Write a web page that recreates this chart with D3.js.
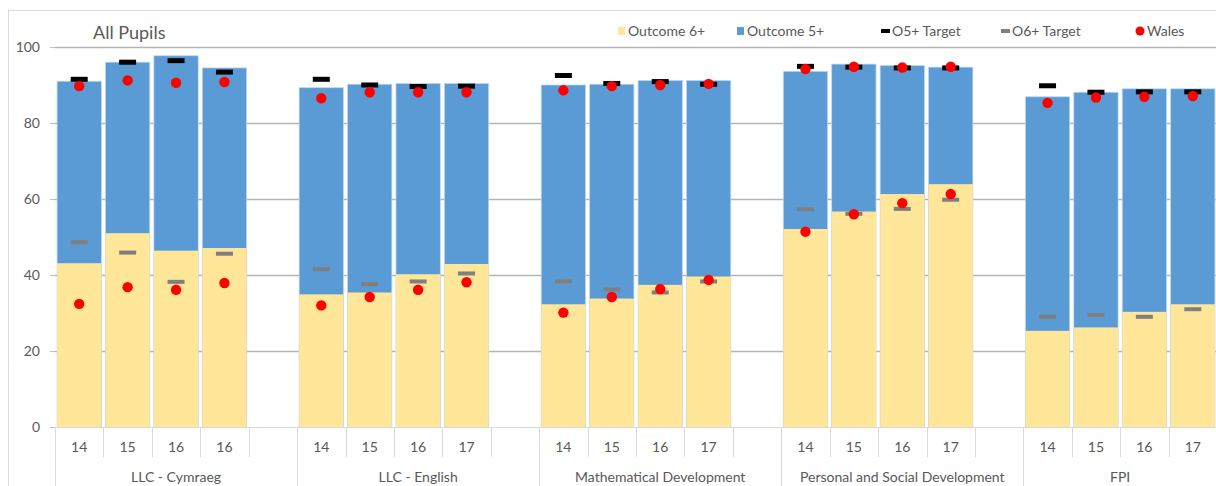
<!DOCTYPE html>
<html>
<head>
<meta charset="utf-8">
<script src="https://cdn.jsdelivr.net/npm/d3@7"></script>
<style>
  body { margin: 0; background: #fff; }
  svg text { font-family: Lato, "Open Sans", sans-serif; fill: #595959; }
</style>
</head>
<body>
<div id="chart"></div>
<script>
// data
const groups = ["LLC - Cymraeg", "LLC - English", "Mathematical Development", "Personal and Social Development", "FPI"];
const years = [["14","15","16","16"], ["14","15","16","17"], ["14","15","16","17"], ["14","15","16","17"], ["14","15","16","17"]];
const outcome5 = [[91.0,96.0,97.7,94.5],[89.3,90.2,90.4,90.4],[90.0,90.2,91.2,91.2],[93.6,95.5,95.1,94.7],[86.9,88.1,89.0,89.0]];
const outcome6 = [[43.1,51.0,46.4,47.1],[34.9,35.4,40.2,42.9],[32.3,33.8,37.4,39.6],[52.1,56.7,61.3,63.9],[25.3,26.2,30.3,32.3]];
const target5 = [[91.5,96.0,96.4,93.4],[91.5,90.0,89.6,89.7],[92.5,90.4,90.9,90.2],[94.9,94.7,94.5,94.5],[89.8,88.1,88.2,88.2]];
const target6 = [[48.6,45.9,38.2,45.6],[41.5,37.6,38.3,40.4],[38.3,36.2,35.4,38.3],[57.3,56.1,57.4,59.8],[29.0,29.5,29.0,31.0]];
const wales5 = [[89.7,91.2,90.6,90.8],[86.5,88.1,88.1,88.1],[88.6,89.7,90.0,90.3],[94.2,94.8,94.6,94.8],[85.3,86.7,86.9,87.1]];
const wales6 = [[32.4,36.8,36.1,37.9],[32.0,34.2,36.1,38.1],[30.1,34.2,36.3,38.7],[51.4,56.0,58.9,61.3],[null,null,null,null]];
const yTicks = [0, 20, 40, 60, 80, 100];

const W = 1216, H = 486;
const margin = {left: 55, right: 1217, top: 47, bottom: 427};

const svg = d3.select("#chart").append("svg")
    .attr("width", W)
    .attr("height", H);

// outer chart border
svg.append("rect")
    .attr("x", 8.5).attr("y", 10.5)
    .attr("width", W + 20).attr("height", H + 20)
    .attr("fill", "none")
    .attr("stroke", "#d9d9d9");

// build slots: 4 years per group plus an empty spacer between groups
const slots = [];
const rows = [];
groups.forEach(function (g, gi) {
    years[gi].forEach(function (yr, i) {
        const key = gi + "-" + i;
        slots.push(key);
        rows.push({
            key: key, group: gi, year: yr,
            o5: outcome5[gi][i], o6: outcome6[gi][i],
            t5: target5[gi][i], t6: target6[gi][i],
            w5: wales5[gi][i], w6: wales6[gi][i]
        });
    });
    if (gi < groups.length - 1) slots.push(gi + "-gap");
});

const x = d3.scaleBand()
    .domain(slots)
    .range([margin.left, margin.right])
    .paddingInner(0.085)
    .paddingOuter(0.0425);

const y = d3.scaleLinear()
    .domain([0, 100])
    .range([margin.bottom, margin.top]);

const step = x.step();
const slotStart = function (k) { return x(k) - x.paddingInner() * step / 2; };

// gridlines
svg.append("g")
    .selectAll("line")
    .data(yTicks.filter(d => d > 0))
    .join("line")
    .attr("x1", margin.left).attr("x2", W)
    .attr("y1", d => Math.round(y(d)) + 0.5).attr("y2", d => Math.round(y(d)) + 0.5)
    .attr("stroke", "#b4b4b4")
    .attr("stroke-width", 1.5);

// y axis labels and small ticks
const yAxis = svg.append("g")
    .attr("transform", `translate(${margin.left},0)`)
    .call(d3.axisLeft(y).tickValues(yTicks).tickSize(5).tickPadding(10));
yAxis.select(".domain").remove();
yAxis.selectAll(".tick line").attr("stroke", "#bfbfbf");
yAxis.selectAll(".tick text")
    .style("font-family", "Lato, sans-serif")
    .style("font-size", "14px")
    .attr("fill", "#595959");

// bars: Outcome 5+ behind, Outcome 6+ in front
svg.append("g")
    .selectAll("rect")
    .data(rows)
    .join("rect")
    .attr("x", d => x(d.key))
    .attr("width", x.bandwidth())
    .attr("y", d => y(d.o5))
    .attr("height", d => y(0) - y(d.o5))
    .attr("fill", "#5b9bd5")
    .attr("stroke", "#bdd7ee")
    .attr("stroke-width", 0.75);

svg.append("g")
    .selectAll("rect")
    .data(rows)
    .join("rect")
    .attr("x", d => x(d.key))
    .attr("width", x.bandwidth())
    .attr("y", d => y(d.o6))
    .attr("height", d => y(0) - y(d.o6))
    .attr("fill", "#ffe699");

// target dashes
const dashW = 17;
svg.append("g")
    .selectAll("rect")
    .data(rows)
    .join("rect")
    .attr("x", d => x(d.key) + x.bandwidth() / 2 - dashW / 2)
    .attr("y", d => y(d.t6) - 2)
    .attr("width", dashW).attr("height", 4)
    .attr("fill", "#7f7f7f");

svg.append("g")
    .selectAll("rect")
    .data(rows)
    .join("rect")
    .attr("x", d => x(d.key) + x.bandwidth() / 2 - dashW / 2)
    .attr("y", d => y(d.t5) - 2.5)
    .attr("width", dashW).attr("height", 5)
    .attr("fill", "#000");

// Wales dots
const walesPts = [];
rows.forEach(function (d) {
    walesPts.push({ key: d.key, v: d.w5 });
    if (d.w6 != null) walesPts.push({ key: d.key, v: d.w6 });
});
svg.append("g")
    .selectAll("circle")
    .data(walesPts)
    .join("circle")
    .attr("cx", d => x(d.key) + x.bandwidth() / 2)
    .attr("cy", d => y(d.v))
    .attr("r", 5.2)
    .attr("fill", "#ff0000");

// category axis
const axisG = svg.append("g");
axisG.append("line")
    .attr("x1", margin.left).attr("x2", W)
    .attr("y1", margin.bottom + 0.5).attr("y2", margin.bottom + 0.5)
    .attr("stroke", "#d9d9d9");

// slot separators (short) and group separators (long)
const sepData = [];
let pos = 0;
groups.forEach(function (g, gi) {
    const n = years[gi].length + (gi < groups.length - 1 ? 1 : 0);
    sepData.push({ i: pos, long: true });
    for (let k = 1; k < n; k++) sepData.push({ i: pos + k, long: false });
    pos += n;
});
sepData.push({ i: pos, long: true });

axisG.selectAll("line.sep")
    .data(sepData)
    .join("line")
    .attr("class", "sep")
    .attr("x1", d => Math.round(margin.left + d.i * step) + 0.5)
    .attr("x2", d => Math.round(margin.left + d.i * step) + 0.5)
    .attr("y1", margin.bottom)
    .attr("y2", d => d.long ? H : 457)
    .attr("stroke", "#d9d9d9");

axisG.selectAll("text.year")
    .data(rows)
    .join("text")
    .attr("class", "year")
    .attr("x", d => slotStart(d.key) + step / 2)
    .attr("y", 452)
    .attr("text-anchor", "middle")
    .style("font-size", "14px")
    .text(d => d.year);

axisG.selectAll("text.group")
    .data(groups)
    .join("text")
    .attr("class", "group")
    .attr("x", function (d, gi) {
        const a = slotStart(gi + "-0");
        const b = slotStart(gi + "-3") + step;
        return (a + b) / 2 + (gi < groups.length - 1 ? step / 2 : 0);
    })
    .attr("y", 482)
    .attr("text-anchor", "middle")
    .style("font-size", "14px")
    .text(d => d);

// title
svg.append("text")
    .attr("x", 93)
    .attr("y", 39)
    .style("font-size", "18px")
    .attr("fill", "#404040")
    .text("All Pupils");

// legend
const legendItems = [
    { label: "Outcome 6+", type: "square", color: "#ffe699", x: 618 },
    { label: "Outcome 5+", type: "square", color: "#5b9bd5", x: 737 },
    { label: "O5+ Target", type: "dash", color: "#000", x: 882 },
    { label: "O6+ Target", type: "dash", color: "#7f7f7f", x: 1002 },
    { label: "Wales", type: "dot", color: "#ff0000", x: 1136 }
];
const lg = svg.append("g").selectAll("g")
    .data(legendItems)
    .join("g")
    .attr("transform", d => `translate(${d.x},31)`);
lg.filter(d => d.type === "square").append("rect")
    .attr("x", 0).attr("y", -4).attr("width", 7).attr("height", 8)
    .attr("fill", d => d.color);
lg.filter(d => d.type === "dash").append("rect")
    .attr("x", -1).attr("y", -2).attr("width", 9).attr("height", 4)
    .attr("fill", d => d.color);
lg.filter(d => d.type === "dot").append("circle")
    .attr("cx", 4).attr("cy", 0).attr("r", 4.5)
    .attr("fill", d => d.color);
lg.append("text")
    .attr("x", d => d.type === "dot" ? 11 : 10)
    .attr("y", 5)
    .style("font-size", "14px")
    .text(d => d.label);
</script>
</body>
</html>
